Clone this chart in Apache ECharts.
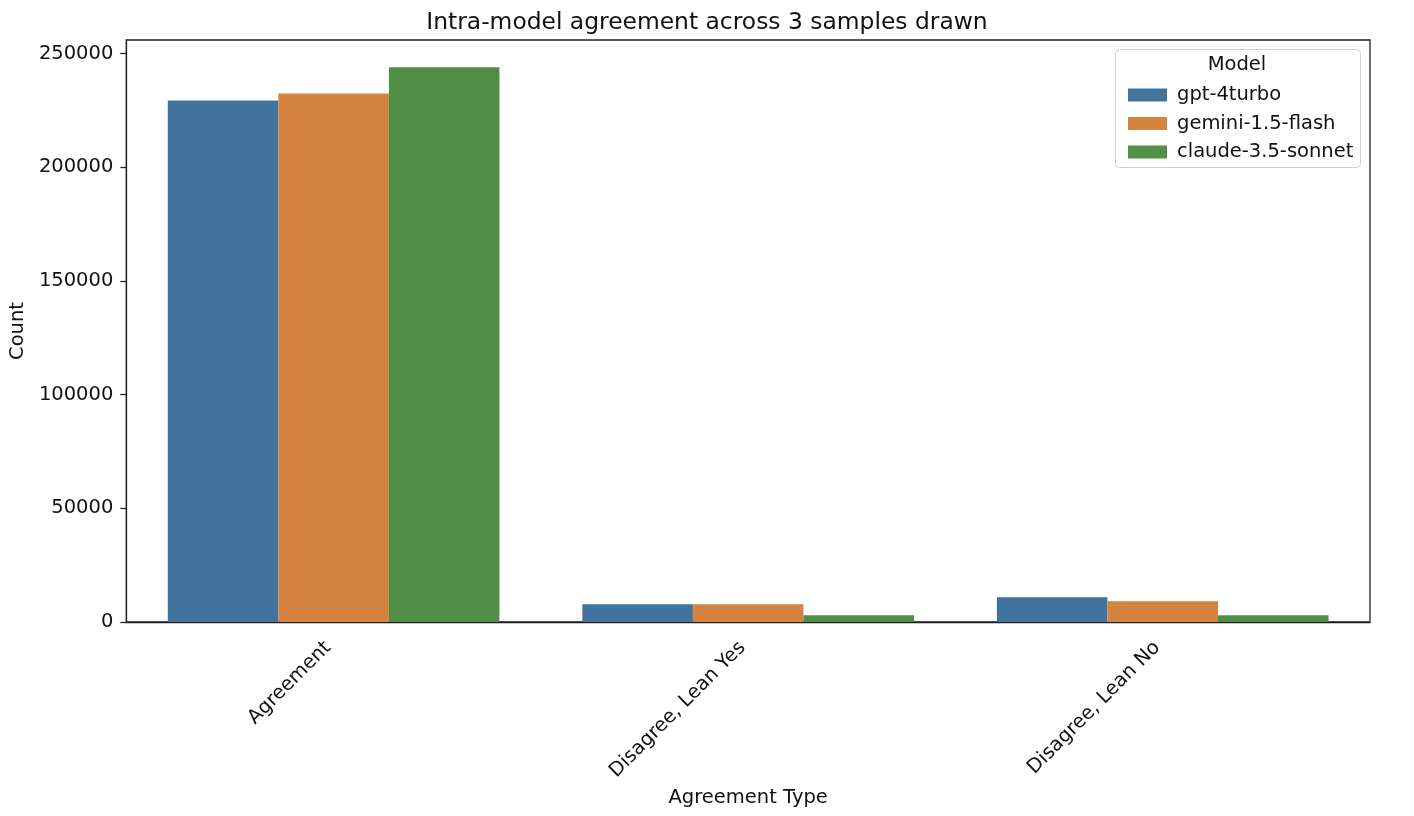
<!DOCTYPE html>
<html>
<head>
<meta charset="utf-8">
<script src="https://cdn.jsdelivr.net/npm/echarts@6/dist/echarts.min.js"></script>
<style>html,body{margin:0;padding:0;background:#fff}#c{width:1414px;height:816px}</style>
</head>
<body>
<div id="c"></div>
<script>
const categories = ['Agreement', 'Disagree, Lean Yes', 'Disagree, Lean No'];
const models = ['gpt-4turbo', 'gemini-1.5-flash', 'claude-3.5-sonnet'];
const gpt4turbo = [229400, 7800, 10900];
const gemini15flash = [232500, 7800, 9100];
const claude35sonnet = [244000, 3000, 3000];
const yTicks = [0, 50000, 100000, 150000, 200000, 250000];
const colors = ['#41739c', '#d5843f', '#518f47'];
const seriesValues = [gpt4turbo, gemini15flash, claude35sonnet];

const FONT = 'DejaVu Sans';
const FS = 19.5;
const chart = echarts.init(document.getElementById('c'), null, {renderer: 'canvas'});
chart.setOption({
  animation: false,
  backgroundColor: '#fff',
  title: {
    text: 'Intra-model agreement across 3 samples drawn',
    left: 'center', top: 6,
    textStyle: {fontFamily: FONT, fontSize: 23.4, fontWeight: 'normal', color: '#111'}
  },
  grid: {left: 125, right: 44, top: 40, bottom: 194, show: true, borderColor: '#222', borderWidth: 1.3, containLabel: false},
  legend: {
    orient: 'vertical', left: 1123, top: 80,
    data: models, icon: 'rect', itemWidth: 39, itemHeight: 13, itemGap: 8.5,
    textStyle: {fontFamily: FONT, fontSize: FS, color: '#111', padding: [0, 0, 0, 5]}
  },
  graphic: [
    {type: 'rect', left: 1115, top: 49, shape: {width: 245, height: 118, r: 4}, style: {fill: '#fff', stroke: '#d0d0d0', lineWidth: 1}, z: 1},
    {type: 'text', x: 1237, y: 65, style: {text: 'Model', font: FS + 'px "DejaVu Sans"', fill: '#111', textAlign: 'center', textVerticalAlign: 'middle'}, z: 2}
  ],
  xAxis: {
    type: 'category', data: categories,
    name: 'Agreement Type', nameLocation: 'middle', nameGap: 162,
    nameTextStyle: {fontFamily: FONT, fontSize: FS, color: '#111'},
    axisLine: {lineStyle: {color: '#222', width: 1.3}},
    axisTick: {alignWithLabel: true, length: 6, lineStyle: {color: '#222', width: 1.3}},
    axisLabel: {rotate: 45, margin: 17, padding: [0, 8, 0, 0], fontFamily: FONT, fontSize: FS, color: '#111'}
  },
  yAxis: {
    type: 'value', min: 0, max: 256000, interval: 50000,
    name: 'Count', nameLocation: 'middle', nameGap: 91,
    nameTextStyle: {fontFamily: FONT, fontSize: FS, color: '#111'},
    axisLine: {show: true, lineStyle: {color: '#222', width: 1.3}},
    axisTick: {show: true, length: 6, customValues: yTicks, lineStyle: {color: '#222', width: 1.3}},
    axisLabel: {margin: 13, customValues: yTicks, formatter: v => String(v), fontFamily: FONT, fontSize: FS, color: '#111'},
    splitLine: {show: false}
  },
  series: models.map((m, i) => ({
    name: m, type: 'bar', data: seriesValues[i],
    barCategoryGap: '20%', barGap: '0%',
    itemStyle: {color: colors[i]}
  }))
});
</script>
</body>
</html>
